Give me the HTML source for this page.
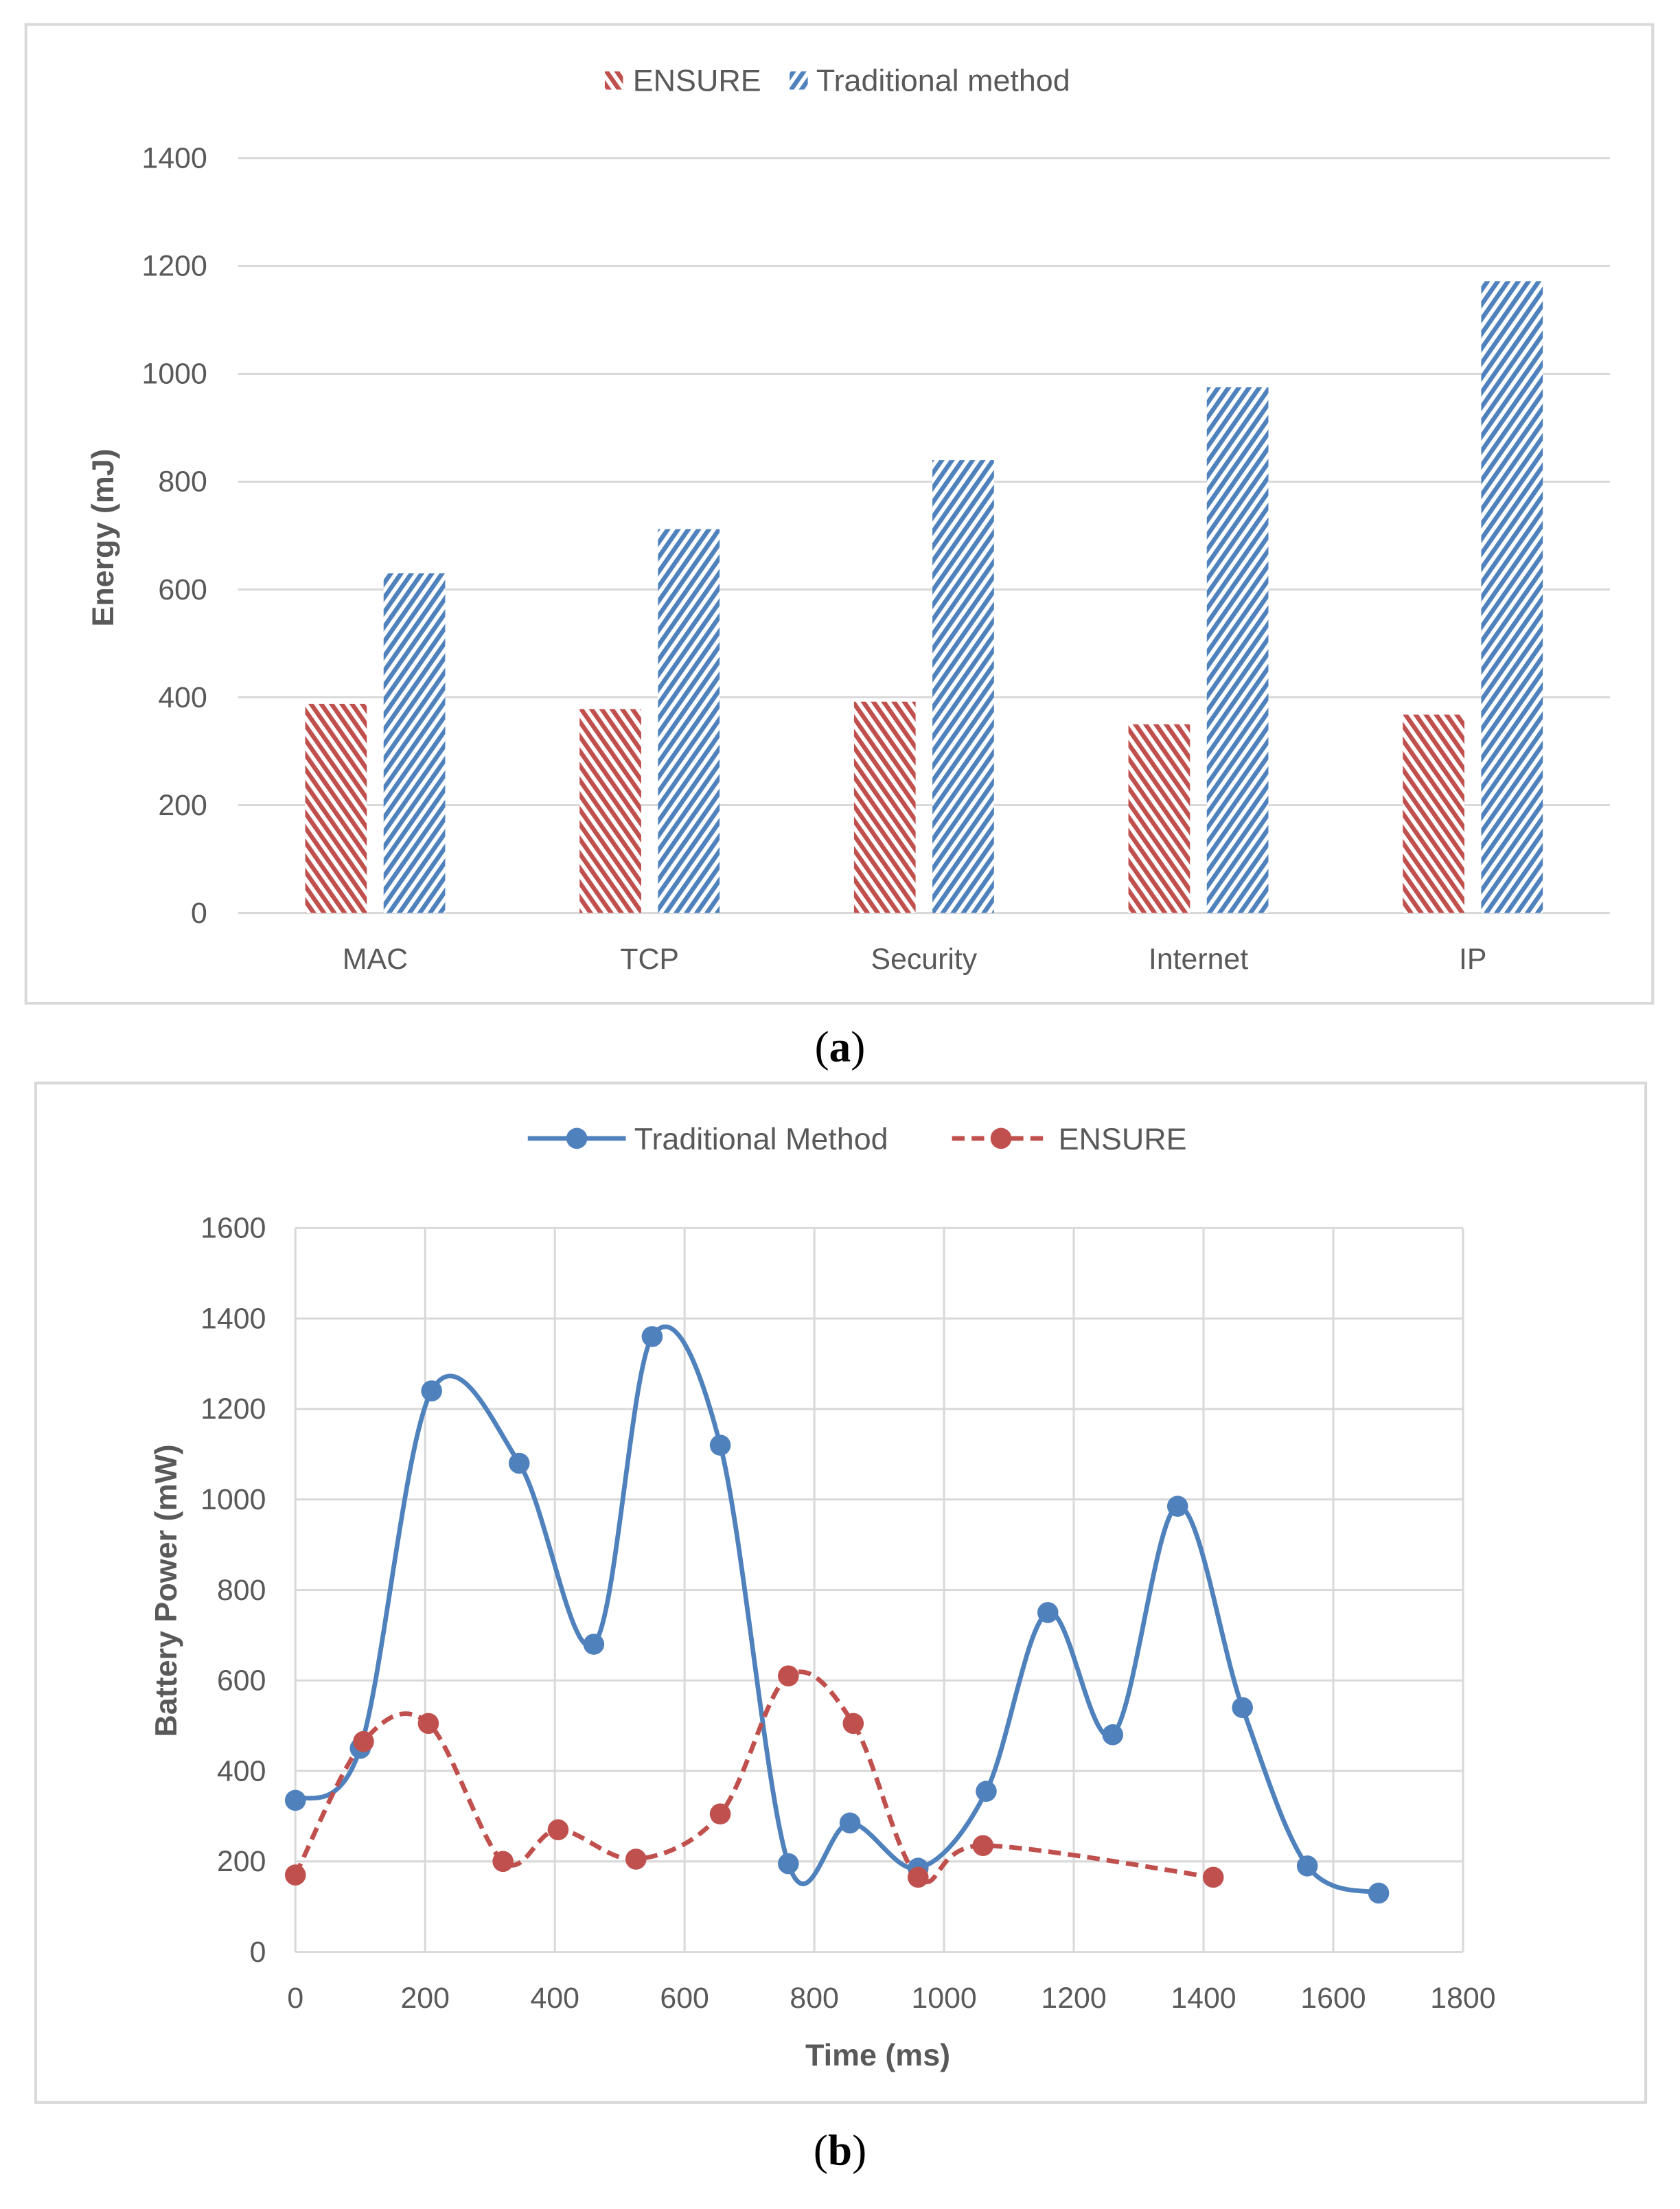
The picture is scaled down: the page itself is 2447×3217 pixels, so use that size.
<!DOCTYPE html>
<html><head><meta charset="utf-8"><style>
html,body{margin:0;padding:0;background:#fff;}
svg{display:block;font-family:"Liberation Sans",sans-serif;}
</style></head><body>
<svg id="root" width="2447" height="3217" viewBox="0 0 1200 1577.6" preserveAspectRatio="none" xmlns="http://www.w3.org/2000/svg">
<defs>
<pattern id="hatchRed" patternUnits="userSpaceOnUse" width="6" height="6" patternTransform="rotate(-35)">
<rect width="6" height="6" fill="#fff"/><rect width="3.2" height="6" fill="#c0504d"/></pattern>
<pattern id="hatchBlue" patternUnits="userSpaceOnUse" width="6" height="6" patternTransform="rotate(35)">
<rect width="6" height="6" fill="#fff"/><rect width="3.2" height="6" fill="#4f81bd"/></pattern>
</defs>
<rect x="18.5" y="17.5" width="1162" height="699" fill="#fff" stroke="#d9d9d9" stroke-width="2"/>
<g id="chartA"></g>
<text x="600" y="758" text-anchor="middle" font-family="Liberation Serif,serif" font-size="31">(<tspan font-weight="bold">a</tspan>)</text>
<rect x="25.5" y="773.5" width="1150" height="728" fill="#fff" stroke="#d9d9d9" stroke-width="2"/>
<g id="chartB"></g>
<text x="600" y="1546" text-anchor="middle" font-family="Liberation Serif,serif" font-size="31">(<tspan font-weight="bold">b</tspan>)</text>
</svg>
<script>
const NS="http://www.w3.org/2000/svg";
function mk(p,t,a,txt){const e=document.createElementNS(NS,t);for(const k in a)e.setAttribute(k,a[k]);if(txt!==undefined)e.textContent=txt;p.appendChild(e);return e;}
// ---- Chart A data ----
const catsA=["MAC","TCP","Security","Internet","IP"];
const ensureA=[388,378,392,350,368];
const tradA=[630,712,840,975,1172];
const ticksA=[0,200,400,600,800,1000,1200,1400];
// ---- Chart B data ----
const tradX=[0,100,210,345,460,550,655,760,855,960,1065,1160,1260,1360,1460,1560,1670];
const tradY=[335,450,1240,1080,680,1360,1120,195,285,185,355,750,480,985,540,190,130];
const ensX=[0,105,205,320,405,525,655,760,860,960,1060,1415];
const ensY=[170,465,505,200,270,205,305,610,505,165,235,165];
const ticksBX=[0,200,400,600,800,1000,1200,1400,1600,1800];
const ticksBY=[0,200,400,600,800,1000,1200,1400,1600];

(function(){
const g=document.getElementById('chartA');
const x0=170,x1=1150,y0=652,yTop=113,max=1400;
const ys=v=>y0-(v/max)*(y0-yTop);
const band=(x1-x0)/catsA.length;
ticksA.forEach(t=>{
 const l=mk(g,'line',{x1:x0,x2:x1,y1:ys(t),y2:ys(t),stroke:'#d9d9d9','stroke-width':1.5});
 
 
 const tx=mk(g,'text',{x:148,y:ys(t)+7,'text-anchor':'end','font-size':21,fill:'#595959'},String(t));
 
 
});
catsA.forEach((c,i)=>{
 const cx=x0+band*(i+0.5);
 const r=mk(g,'rect',{x:cx-50,y:ys(ensureA[i]),width:44,height:y0-ys(ensureA[i]),fill:'url(#hatchRed)'});
 
 
 const b=mk(g,'rect',{x:cx+6,y:ys(tradA[i]),width:44,height:y0-ys(tradA[i]),fill:'url(#hatchBlue)'});
 
 
 const t=mk(g,'text',{x:cx,y:692,'text-anchor':'middle','font-size':21,fill:'#595959'},c);
 
 
});
const yt=mk(g,'text',{x:0,y:0,transform:'translate(81,384) rotate(-90)','text-anchor':'middle','font-size':22,'font-weight':'bold',fill:'#595959'},'Energy (mJ)');


const l1=mk(g,'rect',{x:432,y:51,width:13,height:13,fill:'url(#hatchRed)'});


const l1t=mk(g,'text',{x:452,y:65,'font-size':22,fill:'#595959'},'ENSURE');


const l2=mk(g,'rect',{x:564,y:51,width:13,height:13,fill:'url(#hatchBlue)'});


const l2t=mk(g,'text',{x:583,y:65,'font-size':22,fill:'#595959'},'Traditional method');


})();

(function(){
const g=document.getElementById('chartB');
const x0=211,x1=1045,y0=1394,yTop=877;
const xs=v=>x0+(v/1800)*(x1-x0);
const ys=v=>y0-(v/1600)*(y0-yTop);
ticksBY.forEach(t=>{
 const l=mk(g,'line',{x1:x0,x2:x1,y1:ys(t),y2:ys(t),stroke:'#d9d9d9','stroke-width':1.5});
 
 
 const tx=mk(g,'text',{x:190,y:ys(t)+7,'text-anchor':'end','font-size':21,fill:'#595959'},String(t));
 
 
});
ticksBX.forEach(t=>{
 const l=mk(g,'line',{x1:xs(t),x2:xs(t),y1:yTop,y2:y0,stroke:'#d9d9d9','stroke-width':1.5});
 
 
 const tx=mk(g,'text',{x:xs(t),y:1434,'text-anchor':'middle','font-size':21,fill:'#595959'},String(t));
 
 
});
function spline(X,Y){
 const P=X.map((x,i)=>[xs(x),ys(Y[i])]);
 let d='M'+P[0][0]+','+P[0][1];
 for(let i=0;i<P.length-1;i++){
  const p0=P[i-1]||P[i],p1=P[i],p2=P[i+1],p3=P[i+2]||P[i+1];
  const c1=[p1[0]+(p2[0]-p0[0])/6,p1[1]+(p2[1]-p0[1])/6];
  const c2=[p2[0]-(p3[0]-p1[0])/6,p2[1]-(p3[1]-p1[1])/6];
  d+=' C'+c1+' '+c2+' '+p2;
 }
 return d;
}
const pb=mk(g,'path',{d:spline(tradX,tradY),fill:'none',stroke:'#4f81bd','stroke-width':3.3});


const pr=mk(g,'path',{d:spline(ensX,ensY),fill:'none',stroke:'#c0504d','stroke-width':3.3,'stroke-dasharray':'9,5'});


tradX.forEach((x,i)=>{
 const c=mk(g,'circle',{cx:xs(x),cy:ys(tradY[i]),r:7.5,fill:'#4f81bd'});
 
 
});
ensX.forEach((x,i)=>{
 const c=mk(g,'circle',{cx:xs(x),cy:ys(ensY[i]),r:7.5,fill:'#c0504d'});
 
 
});
const xt=mk(g,'text',{x:627,y:1475,'text-anchor':'middle','font-size':22,'font-weight':'bold',fill:'#595959'},'Time (ms)');


const yt=mk(g,'text',{x:0,y:0,transform:'translate(126,1136) rotate(-90)','text-anchor':'middle','font-size':22,'font-weight':'bold',fill:'#595959'},'Battery Power (mW)');


const a=mk(g,'line',{x1:377,x2:447,y1:813,y2:813,stroke:'#4f81bd','stroke-width':3.3});


const ac=mk(g,'circle',{cx:412,cy:813,r:7.5,fill:'#4f81bd'});


const at=mk(g,'text',{x:453,y:821,'font-size':22,fill:'#595959'},'Traditional Method');


const b=mk(g,'line',{x1:680,x2:750,y1:813,y2:813,stroke:'#c0504d','stroke-width':3.3,'stroke-dasharray':'9,5'});


const bc=mk(g,'circle',{cx:715,cy:813,r:7.5,fill:'#c0504d'});


const bt=mk(g,'text',{x:756,y:821,'font-size':22,fill:'#595959'},'ENSURE');


})();
</script>
</body></html>
